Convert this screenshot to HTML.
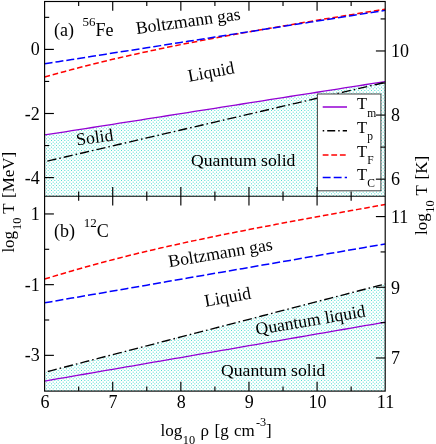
<!DOCTYPE html>
<html><head><meta charset="utf-8"><title>chart</title>
<style>
html,body{margin:0;padding:0;background:#fff;}
body{width:436px;height:444px;overflow:hidden;}
svg{display:block;will-change:transform;opacity:0.999;}
text{font-family:"Liberation Serif",serif;fill:#000;}
</style></head><body>
<svg width="436" height="444" viewBox="0 0 436 444">
<defs>
<pattern id="dots" x="0" y="0" width="10" height="10" patternUnits="userSpaceOnUse">
<rect width="10" height="10" fill="#fff"/>
<rect x="-0.617" y="-1.617" width="0.9" height="0.9" fill="#28d8c8"/><rect x="-0.617" y="1.717" width="0.9" height="0.9" fill="#28d8c8"/><rect x="-0.617" y="5.050" width="0.9" height="0.9" fill="#28d8c8"/><rect x="-0.617" y="8.384" width="0.9" height="0.9" fill="#28d8c8"/><rect x="1.050" y="0.050" width="0.9" height="0.9" fill="#28d8c8"/><rect x="1.050" y="3.383" width="0.9" height="0.9" fill="#28d8c8"/><rect x="1.050" y="6.717" width="0.9" height="0.9" fill="#28d8c8"/><rect x="1.050" y="10.050" width="0.9" height="0.9" fill="#28d8c8"/><rect x="2.717" y="-1.617" width="0.9" height="0.9" fill="#28d8c8"/><rect x="2.717" y="1.717" width="0.9" height="0.9" fill="#28d8c8"/><rect x="2.717" y="5.050" width="0.9" height="0.9" fill="#28d8c8"/><rect x="2.717" y="8.384" width="0.9" height="0.9" fill="#28d8c8"/><rect x="4.383" y="0.050" width="0.9" height="0.9" fill="#28d8c8"/><rect x="4.383" y="3.383" width="0.9" height="0.9" fill="#28d8c8"/><rect x="4.383" y="6.717" width="0.9" height="0.9" fill="#28d8c8"/><rect x="4.383" y="10.050" width="0.9" height="0.9" fill="#28d8c8"/><rect x="6.050" y="-1.617" width="0.9" height="0.9" fill="#28d8c8"/><rect x="6.050" y="1.717" width="0.9" height="0.9" fill="#28d8c8"/><rect x="6.050" y="5.050" width="0.9" height="0.9" fill="#28d8c8"/><rect x="6.050" y="8.384" width="0.9" height="0.9" fill="#28d8c8"/><rect x="7.717" y="0.050" width="0.9" height="0.9" fill="#28d8c8"/><rect x="7.717" y="3.383" width="0.9" height="0.9" fill="#28d8c8"/><rect x="7.717" y="6.717" width="0.9" height="0.9" fill="#28d8c8"/><rect x="7.717" y="10.050" width="0.9" height="0.9" fill="#28d8c8"/><rect x="9.384" y="-1.617" width="0.9" height="0.9" fill="#28d8c8"/><rect x="9.384" y="1.717" width="0.9" height="0.9" fill="#28d8c8"/><rect x="9.384" y="5.050" width="0.9" height="0.9" fill="#28d8c8"/><rect x="9.384" y="8.384" width="0.9" height="0.9" fill="#28d8c8"/><rect x="11.050" y="0.050" width="0.9" height="0.9" fill="#28d8c8"/><rect x="11.050" y="3.383" width="0.9" height="0.9" fill="#28d8c8"/><rect x="11.050" y="6.717" width="0.9" height="0.9" fill="#28d8c8"/><rect x="11.050" y="10.050" width="0.9" height="0.9" fill="#28d8c8"/>
</pattern>
</defs>
<rect width="436" height="444" fill="#fff"/>

<polygon points="44.60,134.97 51.41,133.91 58.22,132.84 65.04,131.77 71.85,130.70 78.66,129.63 85.47,128.56 92.28,127.50 99.10,126.43 105.91,125.36 112.72,124.29 119.53,123.22 126.34,122.15 133.16,121.09 139.97,120.02 146.78,118.95 153.59,117.88 160.40,116.81 167.22,115.74 174.03,114.68 180.84,113.61 187.65,112.54 194.46,111.47 201.28,110.40 208.09,109.33 214.90,108.27 221.71,107.20 228.52,106.13 235.34,105.06 242.15,103.99 248.96,102.92 255.77,101.86 262.58,100.79 269.40,99.72 276.21,98.65 283.02,97.58 289.83,96.51 296.64,95.45 303.46,94.38 310.27,93.31 317.08,92.24 323.89,91.17 330.70,90.10 337.52,89.04 344.33,87.97 351.14,86.90 357.95,85.83 364.76,84.76 371.58,83.69 378.39,82.63 385.20,81.56 385.20,196.2 44.60,196.2" fill="url(#dots)"/>
<polygon points="44.60,372.32 51.41,370.55 58.22,368.78 65.04,367.02 71.85,365.25 78.66,363.48 85.47,361.71 92.28,359.95 99.10,358.18 105.91,356.41 112.72,354.64 119.53,352.88 126.34,351.11 133.16,349.34 139.97,347.57 146.78,345.81 153.59,344.04 160.40,342.27 167.22,340.50 174.03,338.74 180.84,336.97 187.65,335.20 194.46,333.43 201.28,331.67 208.09,329.90 214.90,328.13 221.71,326.36 228.52,324.60 235.34,322.83 242.15,321.06 248.96,319.29 255.77,317.53 262.58,315.76 269.40,313.99 276.21,312.22 283.02,310.46 289.83,308.69 296.64,306.92 303.46,305.15 310.27,303.39 317.08,301.62 323.89,299.85 330.70,298.08 337.52,296.32 344.33,294.55 351.14,292.78 357.95,291.01 364.76,289.25 371.58,287.48 378.39,285.71 385.20,283.94 385.20,391.1 44.60,391.1" fill="url(#dots)"/>
<polyline points="44.60,134.97 51.41,133.91 58.22,132.84 65.04,131.77 71.85,130.70 78.66,129.63 85.47,128.56 92.28,127.50 99.10,126.43 105.91,125.36 112.72,124.29 119.53,123.22 126.34,122.15 133.16,121.09 139.97,120.02 146.78,118.95 153.59,117.88 160.40,116.81 167.22,115.74 174.03,114.68 180.84,113.61 187.65,112.54 194.46,111.47 201.28,110.40 208.09,109.33 214.90,108.27 221.71,107.20 228.52,106.13 235.34,105.06 242.15,103.99 248.96,102.92 255.77,101.86 262.58,100.79 269.40,99.72 276.21,98.65 283.02,97.58 289.83,96.51 296.64,95.45 303.46,94.38 310.27,93.31 317.08,92.24 323.89,91.17 330.70,90.10 337.52,89.04 344.33,87.97 351.14,86.90 357.95,85.83 364.76,84.76 371.58,83.69 378.39,82.63 385.20,81.56" fill="none" stroke="#9400d3" stroke-width="1.3"/>
<polyline points="44.60,161.74 51.41,160.15 58.22,158.56 65.04,156.98 71.85,155.39 78.66,153.80 85.47,152.22 92.28,150.63 99.10,149.04 105.91,147.46 112.72,145.87 119.53,144.28 126.34,142.70 133.16,141.11 139.97,139.52 146.78,137.94 153.59,136.35 160.40,134.77 167.22,133.18 174.03,131.59 180.84,130.01 187.65,128.42 194.46,126.83 201.28,125.25 208.09,123.66 214.90,122.07 221.71,120.49 228.52,118.90 235.34,117.31 242.15,115.73 248.96,114.14 255.77,112.55 262.58,110.97 269.40,109.38 276.21,107.80 283.02,106.21 289.83,104.62 296.64,103.04 303.46,101.45 310.27,99.86 317.08,98.28 323.89,96.69 330.70,95.10 337.52,93.52 344.33,91.93 351.14,90.34 357.95,88.76 364.76,87.17 371.58,85.58 378.39,84.00 385.20,82.41" fill="none" stroke="#000" stroke-width="1.35" stroke-dasharray="9.2,3,1.6,3" stroke-dashoffset="14"/>
<polyline points="44.60,77.02 51.41,75.12 58.22,73.25 65.04,71.41 71.85,69.59 78.66,67.81 85.47,66.05 92.28,64.33 99.10,62.63 105.91,60.97 112.72,59.34 119.53,57.75 126.34,56.18 133.16,54.64 139.97,53.13 146.78,51.65 153.59,50.19 160.40,48.76 167.22,47.35 174.03,45.97 180.84,44.60 187.65,43.26 194.46,41.94 201.28,40.63 208.09,39.34 214.90,38.07 221.71,36.81 228.52,35.57 235.34,34.34 242.15,33.12 248.96,31.91 255.77,30.71 262.58,29.52 269.40,28.34 276.21,27.17 283.02,26.00 289.83,24.84 296.64,23.69 303.46,22.55 310.27,21.41 317.08,20.27 323.89,19.14 330.70,18.02 337.52,16.90 344.33,15.78 351.14,14.67 357.95,13.56 364.76,12.45 371.58,11.35 378.39,10.25 385.20,9.15" fill="none" stroke="#ff0000" stroke-width="1.5" stroke-dasharray="5.6,2.8" stroke-dashoffset="0"/>
<polyline points="44.60,63.79 51.41,62.72 58.22,61.65 65.04,60.59 71.85,59.52 78.66,58.45 85.47,57.38 92.28,56.31 99.10,55.24 105.91,54.18 112.72,53.11 119.53,52.04 126.34,50.97 133.16,49.90 139.97,48.83 146.78,47.77 153.59,46.70 160.40,45.63 167.22,44.56 174.03,43.49 180.84,42.42 187.65,41.36 194.46,40.29 201.28,39.22 208.09,38.15 214.90,37.08 221.71,36.01 228.52,34.95 235.34,33.88 242.15,32.81 248.96,31.74 255.77,30.67 262.58,29.60 269.40,28.54 276.21,27.47 283.02,26.40 289.83,25.33 296.64,24.26 303.46,23.19 310.27,22.13 317.08,21.06 323.89,19.99 330.70,18.92 337.52,17.85 344.33,16.78 351.14,15.72 357.95,14.65 364.76,13.58 371.58,12.51 378.39,11.44 385.20,10.37" fill="none" stroke="#0000ff" stroke-width="1.5" stroke-dasharray="8,3" stroke-dashoffset="0"/>
<polyline points="44.60,381.08 51.41,379.91 58.22,378.73 65.04,377.55 71.85,376.37 78.66,375.19 85.47,374.01 92.28,372.84 99.10,371.66 105.91,370.48 112.72,369.30 119.53,368.12 126.34,366.94 133.16,365.77 139.97,364.59 146.78,363.41 153.59,362.23 160.40,361.05 167.22,359.87 174.03,358.70 180.84,357.52 187.65,356.34 194.46,355.16 201.28,353.98 208.09,352.80 214.90,351.63 221.71,350.45 228.52,349.27 235.34,348.09 242.15,346.91 248.96,345.73 255.77,344.56 262.58,343.38 269.40,342.20 276.21,341.02 283.02,339.84 289.83,338.66 296.64,337.49 303.46,336.31 310.27,335.13 317.08,333.95 323.89,332.77 330.70,331.59 337.52,330.42 344.33,329.24 351.14,328.06 357.95,326.88 364.76,325.70 371.58,324.52 378.39,323.35 385.20,322.17" fill="none" stroke="#9400d3" stroke-width="1.3"/>
<polyline points="44.60,372.32 51.41,370.55 58.22,368.78 65.04,367.02 71.85,365.25 78.66,363.48 85.47,361.71 92.28,359.95 99.10,358.18 105.91,356.41 112.72,354.64 119.53,352.88 126.34,351.11 133.16,349.34 139.97,347.57 146.78,345.81 153.59,344.04 160.40,342.27 167.22,340.50 174.03,338.74 180.84,336.97 187.65,335.20 194.46,333.43 201.28,331.67 208.09,329.90 214.90,328.13 221.71,326.36 228.52,324.60 235.34,322.83 242.15,321.06 248.96,319.29 255.77,317.53 262.58,315.76 269.40,313.99 276.21,312.22 283.02,310.46 289.83,308.69 296.64,306.92 303.46,305.15 310.27,303.39 317.08,301.62 323.89,299.85 330.70,298.08 337.52,296.32 344.33,294.55 351.14,292.78 357.95,291.01 364.76,289.25 371.58,287.48 378.39,285.71 385.20,283.94" fill="none" stroke="#000" stroke-width="1.35" stroke-dasharray="9.2,3,1.6,3" stroke-dashoffset="13.5"/>
<polyline points="44.60,279.09 51.41,277.00 58.22,274.95 65.04,272.92 71.85,270.93 78.66,268.97 85.47,267.05 92.28,265.16 99.10,263.30 105.91,261.48 112.72,259.70 119.53,257.94 126.34,256.22 133.16,254.54 139.97,252.88 146.78,251.26 153.59,249.66 160.40,248.09 167.22,246.55 174.03,245.03 180.84,243.53 187.65,242.06 194.46,240.61 201.28,239.17 208.09,237.76 214.90,236.36 221.71,234.97 228.52,233.61 235.34,232.25 242.15,230.91 248.96,229.58 255.77,228.26 262.58,226.95 269.40,225.65 276.21,224.36 283.02,223.08 289.83,221.81 296.64,220.54 303.46,219.28 310.27,218.02 317.08,216.77 323.89,215.53 330.70,214.29 337.52,213.06 344.33,211.82 351.14,210.60 357.95,209.37 364.76,208.16 371.58,206.94 378.39,205.72 385.20,204.51" fill="none" stroke="#ff0000" stroke-width="1.5" stroke-dasharray="5.6,2.8" stroke-dashoffset="0"/>
<polyline points="44.60,302.82 51.41,301.64 58.22,300.46 65.04,299.28 71.85,298.11 78.66,296.93 85.47,295.75 92.28,294.57 99.10,293.39 105.91,292.21 112.72,291.04 119.53,289.86 126.34,288.68 133.16,287.50 139.97,286.32 146.78,285.14 153.59,283.97 160.40,282.79 167.22,281.61 174.03,280.43 180.84,279.25 187.65,278.07 194.46,276.90 201.28,275.72 208.09,274.54 214.90,273.36 221.71,272.18 228.52,271.00 235.34,269.83 242.15,268.65 248.96,267.47 255.77,266.29 262.58,265.11 269.40,263.93 276.21,262.76 283.02,261.58 289.83,260.40 296.64,259.22 303.46,258.04 310.27,256.86 317.08,255.69 323.89,254.51 330.70,253.33 337.52,252.15 344.33,250.97 351.14,249.79 357.95,248.62 364.76,247.44 371.58,246.26 378.39,245.08 385.20,243.90" fill="none" stroke="#0000ff" stroke-width="1.5" stroke-dasharray="8,3" stroke-dashoffset="0"/>
<rect x="317.4" y="94" width="63.5" height="96.8" fill="#fff" stroke="#444" stroke-width="1"/>
<line x1="322.7" y1="107" x2="347" y2="107" stroke="#9400d3" stroke-width="1.5"/>
<text x="357.1" y="109.2" font-size="16.5">T<tspan font-size="11.5" dy="7.3">m</tspan></text>
<line x1="322.7" y1="130.8" x2="347" y2="130.8" stroke="#000" stroke-width="1.5" stroke-dasharray="1.5,3,8,3"/>
<text x="357.1" y="133.0" font-size="16.5">T<tspan font-size="11.5" dy="7.3">p</tspan></text>
<line x1="322.7" y1="154.9" x2="347" y2="154.9" stroke="#ff0000" stroke-width="1.5" stroke-dasharray="5.8,2.8"/>
<text x="357.1" y="157.1" font-size="16.5">T<tspan font-size="11.5" dy="7.3">F</tspan></text>
<line x1="322.7" y1="177.6" x2="347" y2="177.6" stroke="#0000ff" stroke-width="1.5" stroke-dasharray="7.9,3.1"/>
<text x="357.1" y="179.79999999999998" font-size="16.5">T<tspan font-size="11.5" dy="7.3">C</tspan></text>
<g stroke="#000" stroke-width="1.15" fill="none">
<rect x="44.6" y="1.5" width="340.59999999999997" height="389.6"/>
<line x1="44.6" y1="196.2" x2="385.2" y2="196.2"/>
<line x1="78.66" y1="391.1" x2="78.66" y2="386.5"/>
<line x1="78.66" y1="191.6" x2="78.66" y2="200.79999999999998"/>
<line x1="78.66" y1="1.5" x2="78.66" y2="6.1"/>
<line x1="112.72" y1="391.1" x2="112.72" y2="381.8"/>
<line x1="112.72" y1="186.89999999999998" x2="112.72" y2="205.5"/>
<line x1="112.72" y1="1.5" x2="112.72" y2="10.8"/>
<line x1="146.78" y1="391.1" x2="146.78" y2="386.5"/>
<line x1="146.78" y1="191.6" x2="146.78" y2="200.79999999999998"/>
<line x1="146.78" y1="1.5" x2="146.78" y2="6.1"/>
<line x1="180.84" y1="391.1" x2="180.84" y2="381.8"/>
<line x1="180.84" y1="186.89999999999998" x2="180.84" y2="205.5"/>
<line x1="180.84" y1="1.5" x2="180.84" y2="10.8"/>
<line x1="214.90" y1="391.1" x2="214.90" y2="386.5"/>
<line x1="214.90" y1="191.6" x2="214.90" y2="200.79999999999998"/>
<line x1="214.90" y1="1.5" x2="214.90" y2="6.1"/>
<line x1="248.96" y1="391.1" x2="248.96" y2="381.8"/>
<line x1="248.96" y1="186.89999999999998" x2="248.96" y2="205.5"/>
<line x1="248.96" y1="1.5" x2="248.96" y2="10.8"/>
<line x1="283.02" y1="391.1" x2="283.02" y2="386.5"/>
<line x1="283.02" y1="191.6" x2="283.02" y2="200.79999999999998"/>
<line x1="283.02" y1="1.5" x2="283.02" y2="6.1"/>
<line x1="317.08" y1="391.1" x2="317.08" y2="381.8"/>
<line x1="317.08" y1="186.89999999999998" x2="317.08" y2="205.5"/>
<line x1="317.08" y1="1.5" x2="317.08" y2="10.8"/>
<line x1="351.14" y1="391.1" x2="351.14" y2="386.5"/>
<line x1="351.14" y1="191.6" x2="351.14" y2="200.79999999999998"/>
<line x1="351.14" y1="1.5" x2="351.14" y2="6.1"/>
<line x1="44.6" y1="177.60" x2="53.900000000000006" y2="177.60"/>
<line x1="44.6" y1="145.55" x2="49.2" y2="145.55"/>
<line x1="44.6" y1="113.50" x2="53.900000000000006" y2="113.50"/>
<line x1="44.6" y1="81.45" x2="49.2" y2="81.45"/>
<line x1="44.6" y1="49.40" x2="53.900000000000006" y2="49.40"/>
<line x1="44.6" y1="17.35" x2="49.2" y2="17.35"/>
<line x1="385.2" y1="179.17" x2="375.9" y2="179.17"/>
<line x1="385.2" y1="147.12" x2="380.59999999999997" y2="147.12"/>
<line x1="385.2" y1="115.07" x2="375.9" y2="115.07"/>
<line x1="385.2" y1="83.02" x2="380.59999999999997" y2="83.02"/>
<line x1="385.2" y1="50.97" x2="375.9" y2="50.97"/>
<line x1="385.2" y1="18.92" x2="380.59999999999997" y2="18.92"/>
<line x1="44.6" y1="355.35" x2="53.900000000000006" y2="355.35"/>
<line x1="44.6" y1="320.00" x2="49.2" y2="320.00"/>
<line x1="44.6" y1="284.65" x2="53.900000000000006" y2="284.65"/>
<line x1="44.6" y1="249.30" x2="49.2" y2="249.30"/>
<line x1="44.6" y1="213.95" x2="53.900000000000006" y2="213.95"/>
<line x1="385.2" y1="357.98" x2="375.9" y2="357.98"/>
<line x1="385.2" y1="322.63" x2="380.59999999999997" y2="322.63"/>
<line x1="385.2" y1="287.28" x2="375.9" y2="287.28"/>
<line x1="385.2" y1="251.93" x2="380.59999999999997" y2="251.93"/>
<line x1="385.2" y1="216.58" x2="375.9" y2="216.58"/>
</g>
<text x="39.70" y="55.40" font-size="18" text-anchor="end">0</text>
<text x="39.70" y="119.50" font-size="18" text-anchor="end">-2</text>
<text x="39.70" y="183.60" font-size="18" text-anchor="end">-4</text>
<text x="39.70" y="219.95" font-size="18" text-anchor="end">1</text>
<text x="39.70" y="290.65" font-size="18" text-anchor="end">-1</text>
<text x="39.70" y="361.35" font-size="18" text-anchor="end">-3</text>
<text x="391.00" y="56.87" font-size="18" text-anchor="start">10</text>
<text x="391.00" y="120.97" font-size="18" text-anchor="start">8</text>
<text x="391.00" y="185.07" font-size="18" text-anchor="start">6</text>
<text x="391.00" y="222.83" font-size="18" text-anchor="start">11</text>
<text x="391.00" y="293.53" font-size="18" text-anchor="start">9</text>
<text x="391.00" y="364.23" font-size="18" text-anchor="start">7</text>
<text x="44.90" y="408.40" font-size="18" text-anchor="middle">6</text>
<text x="113.02" y="408.40" font-size="18" text-anchor="middle">7</text>
<text x="181.14" y="408.40" font-size="18" text-anchor="middle">8</text>
<text x="249.26" y="408.40" font-size="18" text-anchor="middle">9</text>
<text x="317.38" y="408.40" font-size="18" text-anchor="middle">10</text>
<text x="385.50" y="408.40" font-size="18" text-anchor="middle">11</text>
<text transform="translate(13.90,252.60) rotate(-90)" font-size="17">log</text>
<text transform="translate(20.80,230.00) rotate(-90)" font-size="12.3">10</text>
<text transform="translate(13.90,213.80) rotate(-90)" font-size="17">T</text>
<text transform="translate(13.90,198.00) rotate(-90)" font-size="17">[MeV]</text>
<text transform="translate(426.90,234.90) rotate(-90)" font-size="17">log</text>
<text transform="translate(433.70,212.70) rotate(-90)" font-size="12.3">10</text>
<text transform="translate(426.90,195.50) rotate(-90)" font-size="17">T</text>
<text transform="translate(426.90,179.50) rotate(-90)" font-size="17">[K]</text>
<text x="160.5" y="435.7" font-size="17">log</text>
<text x="182.8" y="443.5" font-size="12.3">10</text>
<text x="200.6" y="435.7" font-size="17">ρ</text>
<text x="214.6" y="435.7" font-size="17">[g</text>
<text x="233.9" y="435.7" font-size="17">cm</text>
<text x="255.9" y="426.3" font-size="12.3">-3</text>
<text x="266.0" y="435.7" font-size="17">]</text>
<text x="54" y="35.9" font-size="18">(a)</text>
<text x="82.6" y="35.9" font-size="18"><tspan font-size="13" dy="-9.8">56</tspan><tspan dy="9.8">Fe</tspan></text>
<text x="54" y="236.6" font-size="18">(b)</text>
<text x="83.8" y="236.6" font-size="18"><tspan font-size="13" dy="-10">12</tspan><tspan dy="10">C</tspan></text>
<text transform="translate(136.7,33.9) rotate(-7.8)" font-size="17.65">Boltzmann gas</text>
<text transform="translate(189,81.8) rotate(-10.5)" font-size="17.65">Liquid</text>
<text transform="translate(77,145.6) rotate(-8)" font-size="17.65">Solid</text>
<text transform="translate(191,166) rotate(0)" font-size="17.65">Quantum solid</text>
<text transform="translate(169.3,267.3) rotate(-9.5)" font-size="17.65">Boltzmann gas</text>
<text transform="translate(205.4,306.7) rotate(-10)" font-size="17.65">Liquid</text>
<text transform="translate(256.6,335.1) rotate(-9.6)" font-size="17.65">Quantum liquid</text>
<text transform="translate(221,376) rotate(0)" font-size="17.65">Quantum solid</text>
</svg></body></html>
